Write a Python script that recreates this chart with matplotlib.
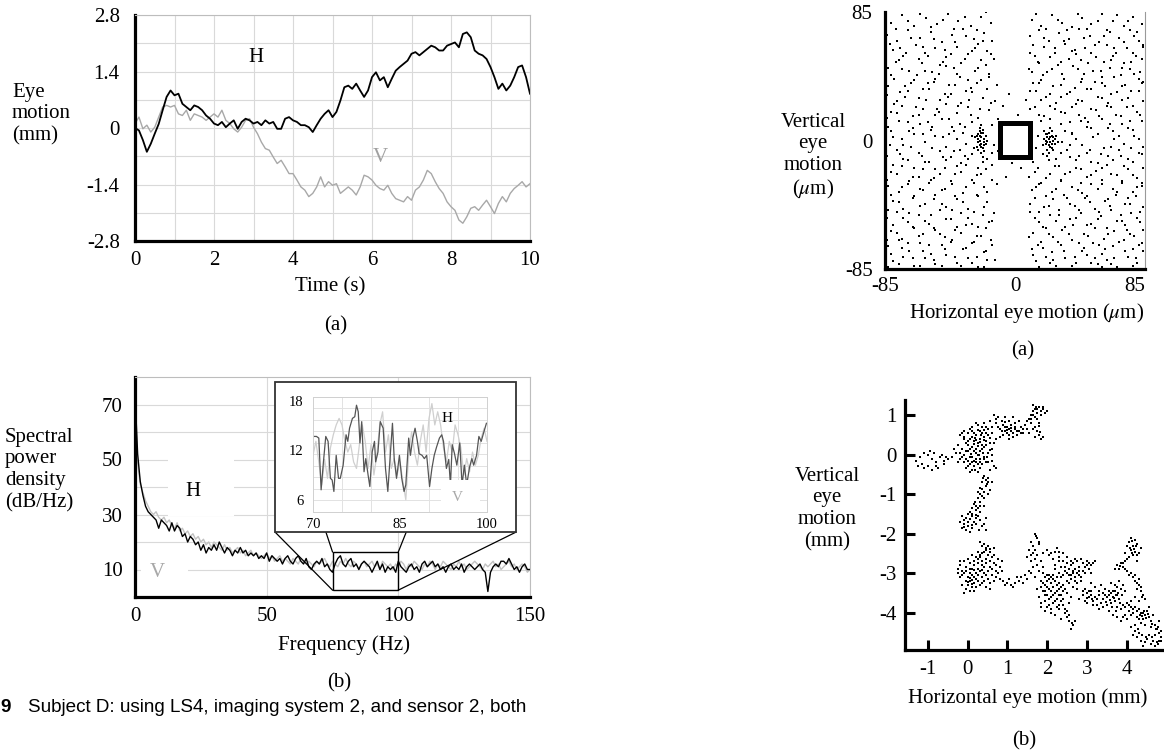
import numpy as np
import matplotlib
matplotlib.use("Agg")
import matplotlib.pyplot as plt
from matplotlib.patches import Rectangle

plt.rcParams['font.family'] = ['Liberation Serif', 'DejaVu Serif']
plt.rcParams['mathtext.fontset'] = 'stix'
plt.rcParams['font.size'] = 15
plt.rcParams['axes.unicode_minus'] = False

# ---- (a) left: eye motion traces, sampled every 0.1 s ----
time_s = np.linspace(0, 10, 101)
h_mm = [0, -0.06, -0.3, -0.59, -0.39, -0.14, 0.1, 0.44, 0.77, 0.93,
        0.81, 0.85, 0.6, 0.52, 0.44, 0.56, 0.52, 0.44, 0.31, 0.23,
        0.11, 0.07, 0.15, 0.02, 0.11, 0.19, -0.02, 0.15, 0.23, 0.19,
        0.11, 0.15, 0.07, 0.19, 0.11, 0.15, -0.02, -0.02, 0.23, 0.27,
        0.19, 0.15, 0.07, 0.07, 0.02, -0.1, 0.07, 0.23, 0.35, 0.44,
        0.27, 0.4, 0.68, 1.01, 1.05, 0.97, 1.1, 0.93, 0.77, 0.93,
        1.26, 1.38, 1.18, 1.26, 1.01, 1.22, 1.42, 1.51, 1.59, 1.67,
        1.84, 1.88, 1.8, 1.88, 1.96, 2.04, 2.0, 1.92, 1.92, 2.04,
        2.08, 2.12, 2.0, 2.33, 2.37, 2.25, 1.92, 1.84, 1.8, 1.71,
        1.51, 1.26, 0.97, 1.1, 0.93, 1.05, 1.26, 1.51, 1.55, 1.26,
        0.85]
v_mm = [0.11, 0.27, -0.02, 0.07, -0.1, 0.02, 0.27, 0.52, 0.56, 0.52,
        0.56, 0.35, 0.31, 0.44, 0.19, 0.35, 0.31, 0.27, 0.19, 0.27,
        0.35, 0.27, 0.44, 0.19, 0.11, -0.02, -0.1, 0.02, 0.19, 0.23,
        0.02, -0.14, -0.35, -0.51, -0.55, -0.72, -0.88, -0.8, -0.96, -1.13,
        -1.13, -1.29, -1.46, -1.54, -1.7, -1.62, -1.46, -1.21, -1.46, -1.33,
        -1.42, -1.38, -1.62, -1.54, -1.46, -1.54, -1.66, -1.46, -1.17, -1.21,
        -1.29, -1.42, -1.5, -1.54, -1.42, -1.62, -1.75, -1.79, -1.83, -1.7,
        -1.79, -1.54, -1.46, -1.29, -1.05, -1.13, -1.33, -1.5, -1.62, -1.83,
        -1.95, -2.04, -2.28, -2.36, -2.2, -1.99, -1.95, -2.04, -1.91, -1.79,
        -1.95, -2.12, -1.87, -1.7, -1.83, -1.62, -1.5, -1.42, -1.33, -1.46,
        -1.38]
time_ticks = [0, 2, 4, 6, 8, 10]
motion_ticks = [-2.8, -1.4, 0, 1.4, 2.8]
motion_labels = ['-2.8', '-1.4', '0', '1.4', '2.8']

# ---- (b) left: spectral power density, 1 Hz steps ----
freq = np.arange(0, 151)
psd_h = [74, 52, 42, 37, 33, 31, 30, 29, 28, 25,
         28, 27, 26, 24, 27, 24, 26, 25, 22, 23,
         20, 22, 21, 19, 20, 17, 19, 16, 18, 17,
         19, 17, 20, 18, 16, 18, 17, 15, 17, 16,
         18, 16, 17, 15, 16, 15, 16, 14, 15, 14,
         16, 13, 15, 14, 13, 14, 12, 14, 15, 13,
         12, 14, 15, 13, 12, 14, 11, 10, 12, 13,
         12, 14, 11, 12, 10, 9, 12, 14, 15, 12,
         11, 13, 14, 11, 12, 10, 12, 13, 12, 11,
         9, 11, 13, 10, 12, 9, 11, 10, 11, 9,
         13, 11, 10, 9, 11, 12, 10, 11, 9, 12,
         13, 11, 12, 13, 11, 12, 10, 11, 9, 11,
         12, 10, 11, 10, 12, 9, 11, 12, 11, 10,
         11, 12, 10, 9, 2, 9, 11, 12, 11, 13,
         13, 12, 14, 12, 10, 11, 9, 11, 12, 10,
         10]
psd_v = [70, 49, 41, 38, 35, 33, 31, 30, 31, 29,
         28, 29, 27, 28, 26, 25, 27, 24, 25, 23,
         24, 22, 23, 21, 22, 20, 21, 19, 20, 18,
         20, 19, 18, 17, 19, 17, 18, 16, 17, 18,
         16, 17, 15, 16, 17, 15, 16, 15, 14, 15,
         16, 14, 15, 13, 14, 15, 13, 14, 13, 12,
         14, 13, 12, 14, 13, 12, 13, 12, 11, 13,
         12, 13, 14, 12, 11, 13, 12, 11, 13, 12,
         14, 12, 11, 13, 12, 10, 12, 13, 11, 12,
         13, 11, 12, 10, 13, 12, 11, 12, 10, 12,
         11, 13, 12, 10, 12, 11, 13, 12, 11, 10,
         12, 11, 13, 12, 10, 12, 11, 13, 12, 11,
         10, 12, 11, 13, 11, 12, 10, 11, 12, 13,
         12, 11, 10, 12, 11, 12, 13, 11, 12, 10,
         11, 12, 13, 11, 12, 10, 11, 12, 11, 9,
         10]

# inset, 70-100 Hz
inset_h_f = [70, 70.6, 71, 71.4, 71.8, 72.2, 72.6, 73, 73.3, 73.6,
             74, 74.4, 74.7, 75.2, 75.7, 76, 76.3, 76.8, 77.2, 77.5,
             77.8, 78.1, 78.4, 78.8, 79.1, 79.5, 79.8, 80.2, 80.6, 80.8,
             81.2, 81.6, 82.1, 82.5, 82.9, 83.3, 83.7, 84, 84.4, 84.9,
             85.3, 85.7, 86, 86.5, 86.8, 87.2, 87.6, 88, 88.3, 88.8,
             89.2, 89.6, 90.1, 90.5, 90.9, 91.3, 91.8, 92.2, 92.5, 93,
             93.4, 93.7, 94, 94.4, 94.8, 95.3, 95.7, 96.1, 96.5, 97,
             97.4, 97.7, 98.2, 98.6, 99, 99.4, 99.9]
inset_h_db = [13.7, 13.7, 13.5, 7.2, 10.6, 13.7, 13.1, 8.6, 8.4, 7.0,
              11.4, 8.6, 8.6, 10.2, 13.9, 13.1, 14.7, 15.9, 16.1, 17.5,
              16.7, 12.9, 15.5, 9.4, 11.0, 9.0, 7.6, 11.8, 13.1, 10.6,
              11.8, 15.5, 14.7, 9.8, 7.0, 11.2, 15.3, 11.0, 8.6, 11.4,
              8.6, 7.0, 7.8, 13.5, 11.4, 13.5, 14.7, 13.1, 11.6, 11.4,
              11.0, 11.4, 7.6, 9.8, 11.4, 12.4, 13.5, 13.9, 13.1, 9.8,
              10.9, 7.8, 12.7, 11.6, 10.2, 12.9, 7.8, 10.2, 7.8, 10.0,
              11.0, 10.2, 11.4, 13.7, 13.1, 14.1, 15.3]
inset_v_f = np.arange(70, 100.5, 0.5)
inset_v_db = [11.4, 13.1, 10.6, 7.8, 10.9, 8.6, 12.3, 13.9, 15.1, 15.9,
              15.1, 13.1, 11.8, 12.7, 10.6, 9.8, 12.7, 15.1, 13.1, 9.8,
              12.7, 9.0, 11.4, 15.1, 16.7, 11.8, 13.9, 9.8, 11.0, 9.0,
              10.6, 8.2, 6.0, 11.4, 14.3, 11.8, 10.2, 13.1, 15.1, 11.8,
              15.9, 17.7, 15.1, 16.7, 15.1, 12.3, 10.6, 13.1, 11.8, 15.1,
              13.9, 12.3, 9.0, 11.0, 9.4, 11.8, 10.2, 11.4, 13.5, 14.7,
              13.1]

# ---- (a) right: retinal positions (um) ----
field_pts = [
    (-81, 78), (-74, 83), (-66, 76), (-58, 81), (-51, 77), (-44, 84), (-37, 79), (-29, 76), (-22, 82), (-16, 78),
    (11, 80), (17, 76), (24, 83), (31, 78), (37, 75), (44, 81), (50, 77), (57, 84), (64, 79), (71, 76), (77, 82), (83, 77),
    (-84, 70), (-77, 66), (-70, 73), (-62, 68), (-55, 72), (-48, 65), (-41, 70), (-34, 74), (-27, 67), (-20, 71), (-15, 66),
    (10, 69), (16, 73), (22, 66), (29, 71), (35, 67), (42, 74), (49, 69), (55, 65), (62, 72), (68, 68), (75, 73), (81, 66),
    (-80, 60), (-73, 56), (-65, 63), (-59, 58), (-52, 61), (-45, 55), (-38, 62), (-31, 57), (-24, 64), (-18, 59),
    (13, 56), (19, 62), (26, 58), (33, 64), (40, 57), (46, 61), (53, 55), (60, 63), (66, 58), (73, 61), (79, 56), (84, 63),
    (-83, 48), (-76, 53), (-69, 46), (-61, 51), (-54, 45), (-47, 52), (-40, 48), (-33, 54), (-26, 46), (-19, 50), (-14, 54),
    (9, 47), (15, 52), (21, 45), (28, 50), (35, 54), (41, 47), (48, 51), (56, 46), (63, 53), (70, 48), (76, 52), (82, 45),
    (-79, 41), (-72, 36), (-64, 43), (-57, 38), (-50, 44), (-43, 37), (-36, 42), (-29, 35), (-22, 40), (-17, 44),
    (12, 38), (18, 43), (25, 36), (32, 41), (39, 35), (45, 44), (52, 39), (59, 36), (65, 42), (72, 37), (78, 44), (84, 39),
    (-84, 30), (-77, 26), (-70, 33), (-63, 28), (-56, 34), (-49, 27), (-42, 31), (-35, 25), (-28, 32), (-21, 28), (-13, 26),
    (-4, 31), (7, 27), (14, 33), (20, 29), (27, 25), (34, 31), (41, 27), (47, 34), (54, 29), (61, 25), (67, 32), (74, 28), (81, 33),
    (-81, 19), (-74, 23), (-67, 16), (-60, 21), (-52, 17), (-45, 24), (-38, 18), (-31, 22), (-24, 15), (-17, 20), (-8, 23),
    (2, 17), (13, 22), (19, 16), (26, 21), (33, 18), (40, 24), (46, 15), (53, 20), (60, 23), (66, 17), (73, 22), (80, 19),
    (-83, 9), (-76, 13), (-69, 6), (-62, 11), (-55, 7), (-48, 14), (-41, 9), (-34, 5), (-28, 12), (-15, 10),
    (17, 13), (30, 11), (37, 5), (43, 13), (50, 8), (57, 14), (64, 6), (70, 11), (77, 7), (83, 13),
    (-80, 2), (-73, -3), (-66, 4), (-59, -1), (-52, 3), (-45, -4), (-38, 1), (-32, -2), (-14, -3),
    (15, 3), (31, -1), (37, 4), (44, -3), (51, 2), (58, -5), (65, 1), (71, -2), (78, 3), (84, -4),
    (-84, -10), (-77, -6), (-70, -13), (-63, -8), (-56, -14), (-49, -7), (-42, -11), (-35, -15), (-28, -9), (-18, -12), (-11, -7),
    (12, -14), (18, -9), (27, -12), (34, -6), (40, -13), (47, -8), (54, -15), (61, -10), (68, -6), (74, -12), (81, -8),
    (-81, -21), (-74, -17), (-67, -24), (-60, -19), (-53, -25), (-46, -18), (-39, -22), (-32, -16), (-25, -23), (-19, -19), (-6, -24),
    (4, -18), (13, -21), (20, -25), (26, -17), (33, -22), (40, -18), (47, -24), (53, -20), (60, -16), (67, -23), (74, -19), (80, -25),
    (-83, -30), (-76, -34), (-69, -27), (-62, -32), (-55, -26), (-48, -33), (-41, -29), (-34, -35), (-27, -28), (-20, -31), (-15, -26),
    (11, -33), (17, -28), (24, -34), (30, -27), (37, -31), (44, -35), (50, -29), (57, -26), (64, -32), (70, -28), (77, -34), (83, -30),
    (-80, -40), (-73, -45), (-66, -37), (-59, -42), (-52, -36), (-45, -44), (-38, -39), (-31, -45), (-24, -37), (-18, -41),
    (13, -38), (19, -44), (25, -39), (32, -36), (39, -43), (46, -38), (52, -45), (59, -40), (66, -36), (72, -42), (79, -37), (84, -44),
    (-84, -51), (-77, -47), (-70, -54), (-63, -49), (-56, -55), (-49, -46), (-42, -52), (-35, -48), (-28, -55), (-21, -49), (-15, -53),
    (10, -47), (16, -54), (23, -49), (29, -46), (36, -52), (43, -48), (50, -55), (56, -50), (63, -46), (70, -53), (76, -48), (82, -54),
    (-81, -60), (-74, -65), (-67, -57), (-60, -62), (-53, -58), (-46, -64), (-39, -59), (-32, -56), (-25, -63), (-19, -58),
    (12, -61), (18, -57), (25, -64), (31, -59), (38, -56), (45, -62), (52, -58), (58, -65), (65, -60), (72, -56), (78, -63), (84, -59),
    (-83, -70), (-76, -66), (-69, -73), (-62, -68), (-55, -75), (-48, -69), (-41, -66), (-34, -72), (-27, -67), (-20, -74), (-15, -69),
    (11, -72), (17, -67), (24, -74), (30, -69), (37, -66), (44, -73), (51, -68), (57, -75), (64, -70), (71, -66), (77, -72), (83, -68),
    (-80, -80), (-73, -77), (-66, -83), (-59, -78), (-52, -82), (-45, -76), (-38, -81), (-31, -78), (-24, -84), (-18, -79),
    (14, -80), (20, -77), (27, -83), (33, -78), (40, -81), (47, -76), (54, -82), (60, -79), (67, -84), (74, -77), (80, -81),
    (-78, 74), (-70, 79), (-62, 84), (-55, 75), (-47, 80), (-40, 74), (-33, 82), (-25, 73), (-19, 85),
    (14, 84), (20, 74), (28, 80), (34, 73), (41, 84), (47, 74), (54, 79), (60, 73), (67, 83), (74, 79), (80, 72),
    (-82, 64), (-75, 61), (-68, 68), (-60, 62), (-53, 67), (-46, 60), (-39, 65), (-32, 69), (-26, 61), (-21, 66),
    (12, 63), (19, 68), (26, 61), (32, 66), (39, 60), (45, 68), (52, 63), (58, 69), (65, 61), (71, 65), (78, 69), (84, 62),
    (-78, 52), (-71, 58), (-63, 54), (-57, 56), (-49, 50), (-42, 57), (-35, 51), (-28, 59), (-22, 53), (-16, 57),
    (10, 58), (16, 51), (23, 55), (30, 52), (37, 59), (43, 53), (50, 58), (58, 52), (64, 56), (71, 51), (77, 58), (83, 54),
    (-81, 43), (-74, 47), (-66, 40), (-59, 46), (-52, 41), (-45, 49), (-38, 44), (-31, 40), (-24, 48), (-17, 42),
    (11, 45), (17, 40), (24, 47), (31, 44), (38, 49), (44, 41), (51, 46), (57, 42), (62, 48), (69, 43), (75, 47), (81, 41),
    (-83, 36), (-75, 32), (-68, 38), (-60, 34), (-53, 39), (-46, 31), (-39, 37), (-32, 33), (-25, 38), (-18, 34), (-12, 37),
    (10, 33), (16, 38), (23, 31), (30, 37), (36, 32), (43, 39), (50, 34), (57, 38), (63, 31), (70, 36), (76, 33), (83, 38),
    (-79, 24), (-72, 29), (-65, 22), (-58, 27), (-51, 21), (-44, 29), (-37, 23), (-30, 27), (-23, 21), (-16, 25),
    (10, 21), (17, 27), (23, 23), (30, 29), (37, 22), (44, 26), (50, 21), (57, 28), (63, 22), (70, 27), (77, 23), (84, 26),
    (-84, 15), (-77, 18), (-70, 12), (-63, 17), (-57, 12), (-50, 19), (-43, 14), (-36, 11), (-29, 17), (-11, 14),
    (10, 11), (16, 17), (23, 14), (30, 19), (36, 12), (42, 17), (48, 12), (55, 16), (62, 11), (69, 16), (75, 13), (82, 17),
    (-81, 6), (-74, 1), (-67, 8), (-60, 4), (-54, 9), (-47, 2), (-40, 6), (-33, 9), (-28, 3), (-36, -6), (-43, 4),
    (33, 6), (40, 1), (47, 9), (54, 4), (61, 8), (68, 3), (74, 8), (81, 1),
    (-82, -3), (-75, -9), (-68, -4), (-61, -10), (-54, -5), (-47, -11), (-40, -7), (-33, -10), (-27, -5), (-15, -8),
    (14, -5), (30, -8), (36, -3), (42, -10), (49, -6), (56, -9), (63, -4), (69, -10), (76, -5), (83, -9),
    (-80, -16), (-73, -12), (-66, -18), (-59, -14), (-52, -19), (-45, -13), (-38, -17), (-31, -12), (-24, -18), (-15, -16), (-2, -15),
    (15, -18), (22, -13), (29, -17), (36, -11), (43, -19), (50, -14), (57, -18), (64, -13), (71, -17), (77, -14), (84, -18),
    (-84, -26), (-77, -22), (-70, -29), (-63, -24), (-56, -28), (-49, -22), (-42, -27), (-35, -21), (-28, -26), (-22, -22), (-12, -29),
    (9, -24), (16, -29), (23, -22), (30, -26), (36, -21), (43, -28), (50, -23), (57, -29), (63, -22), (70, -27), (77, -23), (83, -28),
    (-81, -36), (-74, -31), (-67, -38), (-60, -33), (-53, -39), (-46, -32), (-39, -37), (-32, -31), (-25, -36), (-18, -34),
    (14, -31), (20, -37), (27, -32), (34, -38), (41, -33), (47, -37), (54, -32), (61, -39), (67, -34), (74, -38), (80, -31),
    (-83, -46), (-76, -41), (-69, -48), (-62, -43), (-55, -49), (-48, -42), (-41, -46), (-34, -41), (-27, -47), (-20, -44), (-14, -48),
    (10, -42), (16, -47), (22, -43), (29, -49), (36, -42), (42, -46), (49, -41), (55, -47), (62, -43), (69, -49), (75, -42), (82, -47),
    (-80, -56), (-73, -51), (-66, -58), (-59, -53), (-52, -59), (-45, -52), (-38, -57), (-31, -51), (-24, -57), (-17, -54),
    (13, -51), (20, -58), (27, -53), (33, -57), (40, -51), (47, -56), (54, -52), (60, -58), (67, -53), (73, -59), (80, -51),
    (-84, -66), (-77, -61), (-70, -68), (-63, -63), (-56, -69), (-49, -62), (-42, -67), (-35, -61), (-28, -68), (-22, -63), (-16, -66),
    (9, -64), (15, -69), (22, -62), (28, -67), (35, -62), (42, -68), (48, -63), (55, -69), (61, -62), (68, -67), (75, -62), (81, -69),
    (-81, -75), (-74, -71), (-67, -78), (-60, -73), (-53, -79), (-46, -72), (-39, -77), (-32, -71), (-25, -77), (-19, -73), (-13, -79),
    (12, -76), (18, -71), (25, -79), (32, -73), (39, -77), (45, -71), (52, -78), (59, -72), (65, -78), (72, -73), (79, -78), (84, -73),
    (-83, -84), (-76, -82), (-69, -85), (-62, -83), (-56, -85), (-48, -83), (-42, -85), (-35, -83), (-28, -81), (-20, -84),
    (16, -84), (23, -81), (30, -85), (37, -83), (44, -85), (50, -81), (57, -84), (63, -82), (70, -85), (77, -83), (83, -85),
    # two dense patches beside the target
    (-24, 4), (-22, 2), (-21, 5), (-23, 0), (-20, 1), (-25, 3), (-22, -2), (-21, -5), (-23, 6), (-19, 3),
    (-24, -1), (-22, -8), (-21, -11), (-26, 2), (-20, -3), (-23, 8), (-18, 0), (-25, -4), (-22, 10), (-21, -14),
    (-23, 3), (-22, 5), (-20, -1), (-24, 1), (-21, 7), (-23, -3), (-19, -2), (-22, -4), (-24, -6), (-20, -7),
    (21, 2), (23, -1), (24, 3), (20, -2), (22, 5), (25, 0), (19, 1), (23, -4), (21, -6), (26, -2),
    (24, 6), (20, 4), (22, -8), (27, 3), (18, -3), (25, -6), (23, 8), (21, -10), (28, -1), (19, 6),
    (22, 1), (24, -2), (21, 4), (23, 2), (20, 0), (25, 2), (22, -3), (24, -5), (21, -1), (26, 1),
]
target_box = (-10, -11, 20, 22.5)

# ---- (b) right: eye position trajectory (mm) ----
path_pts = [
    (-0.2, 0.5), (-0.1, 0.6), (0.0, 0.55), (0.1, 0.7), (0.2, 0.5), (0.3, 0.6), (0.4, 0.45), (0.5, 0.5), (0.15, 0.35), (0.25, 0.3),
    (0.35, 0.25), (0.05, 0.4), (-0.05, 0.3), (0.1, 0.2), (0.2, 0.15), (0.3, 0.1), (0.4, 0.2), (0.45, 0.35), (0.55, 0.3), (0.6, 0.15),
    (0.0, 0.1), (-0.1, 0.0), (-0.2, -0.1), (0.0, -0.15), (0.1, -0.05), (0.2, -0.2), (0.3, -0.1), (0.35, -0.25), (0.15, -0.3), (0.05, -0.25),
    (-0.1, -0.2), (-0.15, 0.15), (-0.25, 0.25), (-0.3, 0.05), (0.25, 0.75), (0.4, 0.8), (0.5, 0.65), (0.6, 0.55), (0.7, 0.4), (0.65, -0.3),
    (0.55, -0.4), (0.45, -0.2), (0.25, -0.45), (0.1, -0.4), (0.5, 0.05), (0.6, 0.0), (-0.05, -0.35), (0.2, 0.05), (0.3, 0.4), (0.12, 0.6),
    (0.08, 0.02), (0.28, -0.02), (0.38, 0.05), (-0.08, 0.45), (0.18, 0.42), (0.33, 0.5), (0.42, 0.62), (0.22, -0.1), (0.02, 0.25), (0.48, -0.05),
    (-0.15, 0.55), (0.05, 0.65), (0.15, 0.55), (0.25, 0.62), (0.35, 0.55), (0.45, 0.55), (0.55, 0.42), (0.1, 0.45), (0.2, 0.38), (0.3, 0.32),
    (0.4, 0.38), (0.0, 0.35), (-0.1, 0.4), (0.15, 0.28), (0.25, 0.22), (0.35, 0.15), (0.45, 0.25), (0.05, 0.15), (-0.05, 0.08), (0.15, 0.1),
    (0.25, 0.0), (0.4, -0.05), (-0.15, -0.05), (-0.05, -0.1), (0.05, -0.05), (0.15, -0.15), (0.25, -0.25), (0.1, -0.2), (0.0, -0.3), (-0.2, 0.05),
    (0.32, -0.18), (0.42, -0.12), (0.52, -0.2), (0.6, -0.15), (0.7, -0.35), (0.55, 0.12), (0.65, 0.3), (0.05, -0.45), (0.18, -0.38), (0.3, -0.35),
    (-0.25, -0.2), (-0.35, 0.15), (0.35, 0.7), (0.2, 0.8), (0.45, 0.7),
    (-0.5, -0.1), (-0.6, -0.15), (-0.7, -0.05), (-0.8, -0.2), (-0.9, -0.1), (-1.0, 0.0), (-1.1, 0.05), (-1.2, -0.05), (-1.3, -0.15), (-1.25, -0.3),
    (-1.1, -0.35), (-1.0, -0.3), (-0.9, -0.4), (-0.75, -0.35), (-0.6, -0.25), (-0.55, -0.05), (-0.65, 0.0), (-0.85, 0.05), (-0.95, 0.08), (-0.4, -0.05),
    (-1.15, -0.25), (-0.8, -0.3),
    (0.6, 0.7), (0.7, 0.8), (0.8, 0.65), (0.9, 0.75), (1.0, 0.7), (1.1, 0.6), (1.2, 0.65), (1.1, 0.75), (1.0, 0.55), (0.9, 0.5),
    (1.25, 0.5), (1.3, 0.6), (1.15, 0.45), (0.75, 0.95), (0.65, 1.0), (0.7, 0.9), (0.85, 0.85), (1.05, 0.85), (1.2, 0.8), (1.35, 0.7),
    (1.45, 0.75), (1.5, 0.85), (1.55, 0.9), (1.6, 1.0), (1.65, 1.1), (1.7, 1.15), (1.8, 1.2), (1.9, 1.15), (2.0, 1.1), (1.75, 1.05),
    (1.85, 1.0), (1.7, 0.95), (1.6, 0.8), (1.7, 0.7), (1.75, 0.6), (1.8, 0.5), (1.85, 0.4), (1.7, 0.45), (1.55, 0.55), (1.5, 0.65),
    (1.95, 1.05), (1.65, 1.25), (1.4, 0.55), (0.95, 0.6), (1.05, 0.4), (0.8, 0.45), (1.3, 0.85), (1.15, 0.95), (0.55, 0.85), (0.95, 0.95),
    (0.75, 0.7), (0.85, 0.6), (0.95, 0.7), (1.05, 0.65), (1.15, 0.55), (1.2, 0.7), (1.25, 0.6), (1.1, 0.68), (1.0, 0.62), (0.95, 0.82),
    (1.05, 0.5), (1.35, 0.55), (1.4, 0.65), (1.6, 0.9), (1.65, 1.0), (1.75, 1.15), (1.85, 1.1), (1.8, 0.8), (1.75, 0.9), (1.9, 1.2),
    (1.72, 1.2), (1.65, 0.65), (1.78, 0.72), (1.82, 0.58), (1.9, 0.45),
    (0.4, -0.55), (0.5, -0.6), (0.35, -0.7), (0.45, -0.8), (0.3, -0.85), (0.4, -0.95), (0.5, -1.0), (0.35, -1.05), (0.25, -1.1), (0.3, -1.2),
    (0.2, -1.3), (0.15, -1.25), (0.1, -1.35), (0.2, -1.4), (0.05, -1.45), (0.0, -1.5), (0.1, -1.55), (0.2, -1.6), (0.3, -1.65), (0.15, -1.7),
    (-0.05, -1.6), (-0.15, -1.55), (-0.2, -1.7), (-0.1, -1.75), (0.0, -1.8), (-0.05, -1.9), (0.1, -1.85), (0.2, -1.75), (0.35, -1.8), (0.45, -1.9),
    (0.55, -0.9), (0.6, -0.7), (0.45, -0.65), (0.25, -0.95), (0.4, -1.3), (0.45, -1.6), (-0.15, -1.85), (0.05, -1.95), (0.3, -1.45), (0.25, -1.55),
    (0.38, -0.6), (0.48, -0.75), (0.36, -0.88), (0.42, -1.1), (0.3, -1.0), (0.18, -1.2), (0.25, -1.35), (0.12, -1.5), (0.05, -1.62), (0.22, -1.52),
    (-0.1, -1.65), (0.0, -1.7), (-0.08, -1.82), (0.12, -1.78), (0.28, -1.9), (0.52, -0.7), (0.32, -1.3), (0.4, -1.75),
    (0.3, -2.2), (0.4, -2.25), (0.5, -2.3), (0.45, -2.4), (0.55, -2.45), (0.65, -2.35), (0.35, -2.5), (0.25, -2.45), (0.2, -2.6), (0.1, -2.55),
    (0.0, -2.65), (-0.1, -2.7), (-0.2, -2.8), (-0.25, -2.9), (-0.15, -2.95), (-0.05, -2.85), (0.05, -2.75), (0.15, -2.8), (0.25, -2.75), (0.35, -2.7),
    (0.45, -2.65), (0.55, -2.7), (0.65, -2.75), (0.75, -2.65), (0.85, -2.7), (0.8, -2.85), (0.7, -2.95), (0.6, -2.9), (0.5, -2.95), (0.4, -3.0),
    (0.3, -2.95), (0.2, -3.0), (0.1, -3.05), (0.0, -3.1), (-0.1, -3.0), (-0.2, -3.1), (0.05, -3.2), (0.15, -3.25), (0.1, -3.35), (0.0, -3.3),
    (-0.05, -3.4), (0.15, -3.45), (0.3, -3.3), (0.4, -3.2), (0.5, -3.15), (0.6, -3.05), (0.7, -3.1), (0.45, -3.35), (0.55, -3.4), (-0.1, -3.5),
    (0.2, -3.15), (0.35, -3.1), (0.25, -3.2), (0.1, -2.9), (-0.05, -3.2), (0.65, -2.55), (0.4, -2.85), (0.15, -3.1), (0.3, -2.6), (0.05, -3.0),
    (0.35, -2.3), (0.45, -2.35), (0.55, -2.38), (0.4, -2.45), (0.3, -2.55), (0.5, -2.55), (0.6, -2.6), (0.15, -2.7), (0.25, -2.65), (0.35, -2.8),
    (0.45, -2.75), (0.55, -2.85), (0.7, -2.8), (0.05, -2.9), (-0.05, -2.95), (0.15, -2.92), (0.25, -2.88), (0.35, -2.92), (0.45, -3.05), (0.25, -3.05),
    (0.05, -3.12), (-0.15, -3.05), (0.1, -3.18), (0.0, -3.22), (0.12, -3.28), (0.22, -3.35), (0.06, -3.45), (0.35, -3.25), (0.55, -3.25), (0.65, -3.2),
    (-0.2, -2.7), (-0.25, -3.0), (0.75, -3.0), (0.85, -2.95), (-0.15, -3.3),
    (0.8, -3.15), (0.9, -3.2), (1.0, -3.25), (1.1, -3.3), (1.2, -3.25), (1.3, -3.2), (1.35, -3.1), (1.45, -3.05), (1.5, -3.15), (1.15, -3.35),
    (0.95, -3.3), (1.25, -3.1), (1.55, -2.95), (1.05, -3.15), (1.4, -3.25),
    (1.7, -2.0), (1.75, -2.1), (1.8, -2.2), (1.65, -2.3), (1.5, -2.6), (1.6, -2.55), (1.7, -2.65), (1.75, -2.8), (1.65, -2.85), (1.8, -2.95),
    (1.9, -3.0), (2.0, -3.05), (2.1, -3.1), (2.0, -3.2), (2.1, -3.25), (2.2, -3.2), (2.15, -3.35), (2.05, -3.4), (1.95, -3.3), (1.85, -3.2),
    (1.9, -3.45), (2.0, -3.55), (2.1, -3.6), (2.2, -3.5), (2.3, -3.4), (2.25, -3.65), (2.15, -3.75), (2.05, -3.8), (1.95, -3.7), (1.85, -3.85),
    (1.95, -3.95), (2.1, -4.0), (2.3, -3.9), (2.4, -3.8), (2.0, -2.4), (2.1, -2.5), (2.2, -2.45), (2.3, -2.6), (2.4, -2.7), (2.5, -2.75),
    (2.6, -2.8), (2.7, -2.9), (2.8, -2.85), (2.9, -2.95), (2.65, -3.0), (2.55, -3.05), (2.45, -2.95), (2.35, -3.1), (2.5, -3.2), (2.6, -3.15),
    (2.7, -3.1), (2.8, -3.05), (2.9, -2.75), (3.0, -2.7), (3.1, -2.8), (3.05, -2.9), (2.75, -2.7), (2.4, -3.3), (2.3, -3.0), (2.2, -2.9),
    (2.5, -4.1), (2.55, -4.2), (2.65, -4.3), (2.6, -4.4), (2.45, -4.0), (1.8, -3.6), (2.35, -3.55), (2.2, -2.8), (1.9, -2.5), (2.85, -3.2),
    (1.72, -2.05), (1.78, -2.25), (1.7, -2.4), (1.6, -2.7), (1.75, -2.55), (1.85, -2.7), (1.9, -2.85), (1.95, -3.1), (2.05, -3.15), (2.15, -3.05),
    (2.25, -3.3), (2.1, -3.45), (2.0, -3.35), (1.9, -3.25), (1.95, -3.55), (2.05, -3.65), (2.15, -3.55), (2.25, -3.45), (2.2, -3.7), (2.0, -3.85),
    (2.1, -3.9), (2.25, -3.85), (2.35, -3.7), (2.05, -2.55), (2.15, -2.65), (2.28, -2.7), (2.35, -2.85), (2.45, -2.85), (2.55, -2.9), (2.65, -2.95),
    (2.75, -3.0), (2.6, -3.05), (2.5, -3.0), (2.4, -3.05), (2.55, -3.25), (2.7, -3.2), (2.95, -2.85), (3.05, -2.75), (2.6, -2.7), (2.4, -3.45),
    (2.55, -4.05), (2.62, -4.25), (2.5, -3.95), (1.85, -3.75), (2.3, -3.25),
    (2.4, -2.5), (2.5, -2.6), (2.7, -2.65), (2.85, -2.65), (3.0, -2.8), (3.15, -2.75), (2.95, -3.0), (2.85, -3.1), (2.75, -3.25), (2.65, -3.35),
    (2.45, -3.4), (2.35, -3.35), (2.5, -3.5), (2.6, -3.6), (2.4, -3.65), (2.3, -3.8), (2.45, -3.9), (2.55, -3.75), (1.75, -3.4), (1.7, -3.1),
    (1.6, -3.0), (1.65, -2.5), (1.55, -2.4), (1.6, -2.2), (2.25, -2.35), (2.3, -2.45), (2.8, -2.95), (3.1, -3.0), (3.2, -2.7), (2.65, -2.75),
    (2.75, -3.4), (2.2, -4.05), (2.35, -4.15), (2.7, -4.2), (2.05, -3.05), (2.15, -3.15), (2.25, -3.1), (1.85, -3.35), (1.95, -3.45), (2.3, -3.55),
    (2.95, -3.4), (3.0, -3.5), (3.05, -3.6), (2.9, -3.55), (3.1, -3.45), (3.15, -3.7), (3.0, -3.75), (3.2, -3.6), (3.3, -3.55), (3.4, -3.65),
    (3.5, -3.6), (3.6, -3.5), (3.7, -3.45), (3.75, -3.55), (3.8, -3.65), (3.7, -3.7), (3.6, -3.75), (3.5, -3.8), (3.4, -3.85), (3.3, -3.9),
    (3.55, -3.95), (3.65, -4.05), (3.75, -4.1), (3.85, -3.9), (3.9, -3.8), (4.0, -3.75), (4.1, -3.7), (4.2, -3.85), (4.3, -3.9), (4.35, -4.0),
    (4.45, -4.05), (4.4, -4.15), (4.5, -3.95), (4.55, -4.1), (4.6, -4.2), (4.35, -4.25), (4.25, -4.1), (4.15, -4.0), (4.05, -3.95), (4.7, -4.3),
    (4.75, -4.4), (4.8, -4.5), (4.7, -4.55), (4.85, -4.45), (4.6, -4.35), (3.85, -3.4), (3.7, -3.3), (3.6, -3.25), (3.8, -3.2), (3.9, -3.3),
    (3.45, -3.4), (3.35, -3.3), (3.2, -3.35), (3.1, -3.25), (3.25, -3.8), (3.95, -4.05), (4.0, -4.15), (3.85, -4.2), (4.45, -4.3), (4.55, -3.85),
    (4.2, -3.6), (4.3, -3.7), (3.65, -3.6), (3.75, -3.85), (4.65, -4.05), (4.8, -4.2), (3.55, -3.45), (2.8, -3.65), (3.35, -3.75), (4.1, -3.85),
    (2.9, -3.45), (3.05, -3.45), (3.1, -3.55), (3.0, -3.62), (3.12, -3.65), (2.95, -3.7), (3.25, -3.65), (3.45, -3.55), (3.55, -3.55), (3.65, -3.45),
    (3.72, -3.55), (3.78, -3.5), (3.68, -3.62), (3.58, -3.68), (3.48, -3.72), (3.62, -3.85), (3.72, -3.95), (3.82, -3.75), (3.95, -3.85), (4.05, -3.8),
    (4.15, -3.9), (4.25, -3.95), (4.32, -4.05), (4.4, -4.0), (4.48, -4.12), (4.38, -4.08), (4.52, -4.02), (4.42, -3.95), (4.3, -4.15), (4.62, -4.28),
    (4.72, -4.42), (4.78, -4.35), (3.75, -3.35), (3.88, -3.55), (3.95, -3.45), (3.4, -3.5), (3.3, -3.45), (3.15, -3.8), (4.1, -4.05), (3.9, -4.1),
    (4.1, -2.1), (4.2, -2.15), (4.25, -2.25), (4.15, -2.3), (4.05, -2.2), (4.0, -2.3), (4.1, -2.4), (4.2, -2.45), (4.3, -2.5), (4.15, -2.55),
    (4.05, -2.6), (3.95, -2.7), (3.85, -2.75), (3.75, -2.8), (3.8, -2.9), (3.9, -2.85), (4.0, -2.95), (4.1, -3.0), (4.15, -3.1), (4.2, -3.2),
    (4.3, -3.3), (4.35, -3.45), (4.4, -3.55), (4.25, -3.4), (3.7, -2.9), (4.35, -2.35), (4.25, -2.7), (3.95, -2.5), (4.45, -3.65), (4.3, -3.15),
    (4.12, -2.18), (4.22, -2.32), (4.08, -2.35), (4.18, -2.38), (4.25, -2.55), (4.12, -2.48), (4.0, -2.65), (3.9, -2.75), (3.82, -2.82), (3.95, -2.9),
    (4.05, -3.05), (4.2, -3.05), (4.25, -3.25), (4.35, -3.35), (4.38, -3.6),
    (4.1, -4.35), (4.2, -4.45), (4.3, -4.5), (4.25, -4.6), (4.35, -4.7), (4.45, -4.75), (4.5, -4.65), (4.6, -4.8), (4.7, -4.85), (4.8, -4.7),
    (4.85, -4.6), (4.75, -4.75), (4.55, -4.55), (4.15, -4.55), (4.4, -4.85),
    (4.2, -4.3), (4.28, -4.4), (4.38, -4.55), (4.48, -4.62), (4.65, -4.7), (4.78, -4.8), (4.62, -4.6), (4.85, -4.72),
]

W, H = 1164, 754
GRID = '#d9d9d9'
FRAME = '#bdbdbd'


def box(l, t, r, b):
    # pixel box of the reference -> figure fraction
    return [l / W, 1 - b / H, (r - l) / W, (b - t) / H]


def px(x, y):
    return x / W, 1 - y / H


def heavy_frame(ax, top=FRAME, right=FRAME):
    for s in ('left', 'bottom'):
        ax.spines[s].set_linewidth(2.3)
        ax.spines[s].set_color('black')
    for s, c in (('top', top), ('right', right)):
        if c is None:
            ax.spines[s].set_visible(False)
        else:
            ax.spines[s].set_linewidth(0.8)
            ax.spines[s].set_color(c)
    ax.tick_params(which='both', length=0)


fig = plt.figure(figsize=(W / 100, H / 100), dpi=100)

# (a) eye motion vs time
ax1 = fig.add_axes(box(135, 15, 530, 241))
ax1.plot(time_s, v_mm, color='#a8a8a8', lw=1.0)
ax1.plot(time_s, h_mm, color='black', lw=1.3)
ax1.set_xlim(0, 10)
ax1.set_ylim(-2.8, 2.8)
ax1.set_xticks(time_ticks)
ax1.set_xticks(np.arange(0, 11, 1), minor=True)
ax1.set_yticks(motion_ticks, labels=motion_labels)
ax1.set_yticks(np.arange(-2.8, 2.81, 0.7), minor=True)
ax1.grid(which='both', color=GRID, lw=0.8)
ax1.set_axisbelow(True)
heavy_frame(ax1)
ax1.tick_params(axis='y', pad=11)
ax1.tick_params(axis='x', pad=7)
ax1.text(3.05, 1.75, 'H', ha='center', va='center')
ax1.text(6.2, -0.72, 'V', ha='center', va='center', color='#a0a0a0')
fig.text(*px(12, 114), 'Eye\nmotion\n(mm)', ha='left', va='center', linespacing=1.2)
fig.text(*px(330, 287), 'Time (s)', ha='center', va='center')
fig.text(*px(336, 326), '(a)', ha='center', va='center')

# (b) spectral power density
ax2 = fig.add_axes(box(135, 377, 530, 597))
ax2.plot(freq, psd_v, color='#c2c2c2', lw=1.0)
ax2.plot(freq, psd_h, color='black', lw=1.0)
ax2.set_xlim(0, 150)
ax2.set_ylim(0, 80)
ax2.set_xticks([0, 50, 100, 150])
ax2.set_yticks([10, 30, 50, 70])
ax2.set_yticks([20, 40, 60], minor=True)
ax2.grid(which='both', color=GRID, lw=0.8)
ax2.set_axisbelow(True)
heavy_frame(ax2)
ax2.tick_params(axis='y', pad=9)
ax2.tick_params(axis='x', pad=7)
ax2.add_patch(Rectangle((12.5, 29.5), 25, 23, fc='white', ec='none', zorder=1.5))
ax2.add_patch(Rectangle((2.3, 4), 18, 11, fc='white', ec='none', zorder=1.5))
ax2.text(22, 38.5, 'H', ha='center', va='center', zorder=3)
ax2.text(8.4, 9.0, 'V', ha='center', va='center', color='#a8a8a8', zorder=3)
# zoom window and its link to the inset
ax2.add_patch(Rectangle((75, 2.5), 25, 13.9, fill=False, ec='black', lw=1.0, zorder=4))
for xa, ya, xb, yb in ((53.2, 23.6, 75, 2.5), (72.5, 23.6, 75, 16.4),
                       (103, 23.6, 100, 16.4), (144.7, 23.6, 100, 2.5)):
    ax2.plot([xa, xb], [ya, yb], color='black', lw=0.9, zorder=4)
ax2.add_patch(Rectangle((53.2, 23.6), 91.5, 54.6, fc='white', ec='#333333', lw=1.3,
                        zorder=5, clip_on=False))
fig.text(*px(5, 470), 'Spectral\npower\ndensity\n(dB/Hz)', ha='left', va='center', linespacing=1.2)
fig.text(*px(344, 645), 'Frequency (Hz)', ha='center', va='center')
fig.text(*px(339, 683), '(b)', ha='center', va='center')

ax3 = fig.add_axes(box(313, 397, 487, 512))
ax3.plot(inset_v_f, inset_v_db, color='#cfcfcf', lw=0.9)
ax3.plot(inset_h_f, inset_h_db, color='#555555', lw=0.9)
ax3.set_xlim(70, 100)
ax3.set_ylim(4.5, 18.5)
ax3.set_xticks([70, 85, 100])
ax3.set_xticks(np.arange(70, 101, 5), minor=True)
ax3.set_yticks([6, 12, 18])
ax3.set_yticks(np.arange(4.5, 18.6, 1.4), minor=True)
ax3.grid(which='minor', color='#e2e2e2', lw=0.7)
ax3.set_axisbelow(True)
for s in ax3.spines.values():
    s.set_color('#d0d0d0')
    s.set_linewidth(0.7)
ax3.tick_params(which='both', length=0, labelsize=10.5)
ax3.tick_params(axis='y', pad=7)
ax3.tick_params(axis='x', pad=4)
ax3.add_patch(Rectangle((92, 4.5), 6.8, 3.9, fc='white', ec='none', zorder=3))
ax3.text(93.1, 15.9, 'H', ha='center', va='center', fontsize=11, zorder=4)
ax3.text(94.8, 6.3, 'V', ha='center', va='center', fontsize=11, color='#a8a8a8', zorder=4)

# (a) right: fixation field
ax4 = fig.add_axes(box(885, 12, 1145, 269))
ax4.scatter([p[0] for p in field_pts], [p[1] for p in field_pts],
            s=2.6, c='black', marker='s', linewidths=0)
ax4.add_patch(Rectangle(target_box[:2], target_box[2], target_box[3],
                        fill=False, ec='black', lw=3.6))
ax4.set_xlim(-85, 85)
ax4.set_ylim(-85, 85)
ax4.set_xticks([-85, 0, 85])
ax4.set_yticks([-85, 0, 85])
heavy_frame(ax4, top=None, right='#999999')
ax4.tick_params(axis='y', pad=9)
ax4.tick_params(axis='x', pad=6)
xl = ax4.get_xticklabels()
xl[2].set_ha('right')
fig.text(*px(813, 157), 'Vertical\neye\nmotion\n($\\mu$m)', ha='center', va='center', linespacing=1.2)
fig.text(*px(1027, 313), 'Horizontal eye motion ($\\mu$m)', ha='center', va='center')
fig.text(*px(1023, 351), '(a)', ha='center', va='center')

# (b) right: trajectory
ax5 = fig.add_axes(box(905, 400, 1163, 650))
ax5.scatter([p[0] for p in path_pts], [p[1] for p in path_pts],
            s=2.6, c='black', marker='s', linewidths=0)
ax5.set_xlim(-1.57, 4.9)
ax5.set_ylim(-4.94, 1.38)
ax5.set_xticks([-1, 0, 1, 2, 3, 4])
ax5.set_yticks([1, 0, -1, -2, -3, -4])
heavy_frame(ax5, top=None, right=None)
ax5.tick_params(direction='in', length=7, width=2.2)
ax5.tick_params(axis='y', pad=6)
ax5.tick_params(axis='x', pad=7)
fig.text(*px(827, 509), 'Vertical\neye\nmotion\n(mm)', ha='center', va='center', linespacing=1.2)
fig.text(*px(1028, 698), 'Horizontal eye motion (mm)', ha='center', va='center')
fig.text(*px(1024, 741), '(b)', ha='center', va='center')

# caption line
fig.text(*px(0, 707), '9', ha='left', va='center', fontweight='bold',
         family=['Liberation Sans', 'DejaVu Sans'], fontsize=13.6)
fig.text(*px(28, 707), 'Subject D: using LS4, imaging system 2, and sensor 2, both',
         ha='left', va='center', family=['Liberation Sans', 'DejaVu Sans'], fontsize=13.6)

fig.savefig('out.png', dpi=100)
